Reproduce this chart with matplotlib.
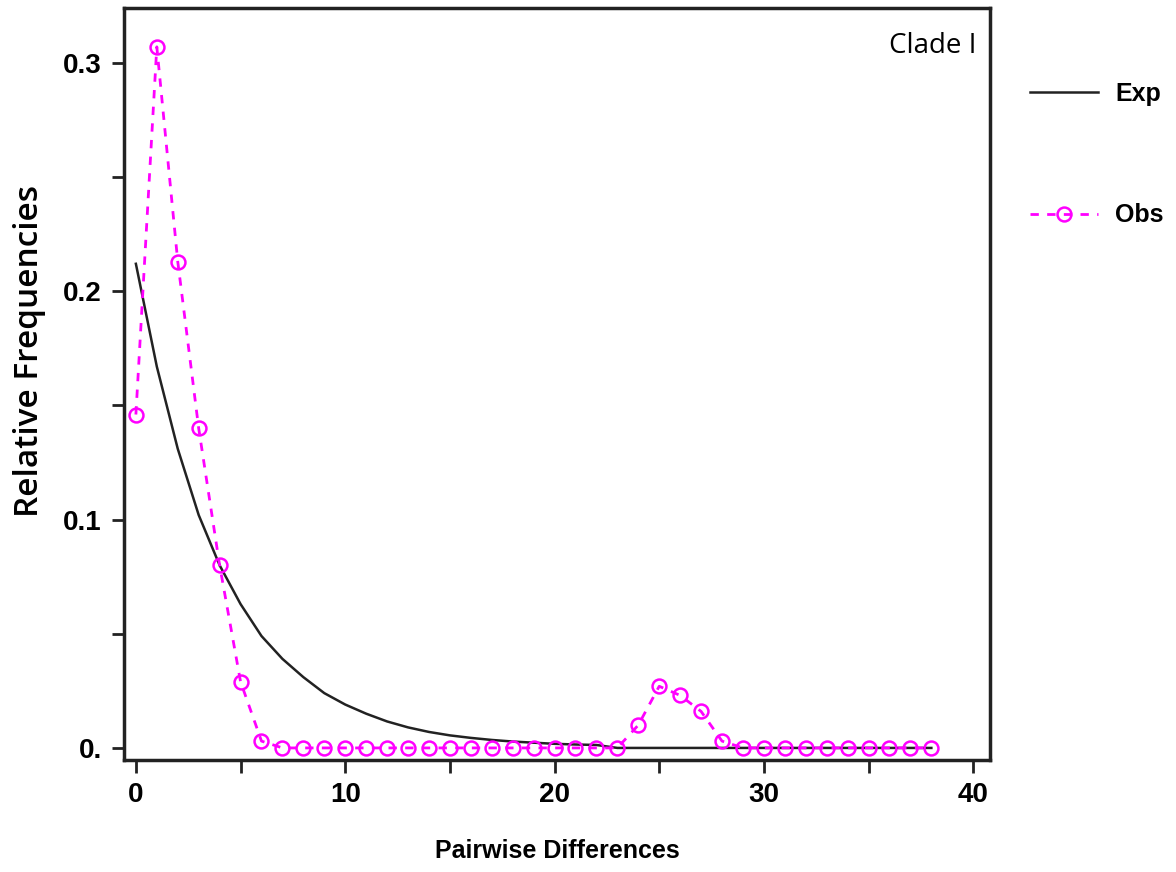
import matplotlib
matplotlib.use('Agg')
from matplotlib import pyplot as plt
from matplotlib.ticker import MultipleLocator, FixedLocator

pairwise_diff = list(range(0, 39))

obs_freq = [0.146, 0.307, 0.213, 0.140, 0.080, 0.029, 0.003, 0.0, 0.0, 0.0,
            0.0, 0.0, 0.0, 0.0, 0.0, 0.0, 0.0, 0.0, 0.0, 0.0,
            0.0, 0.0, 0.0, 0.0, 0.010, 0.027, 0.023, 0.016, 0.003, 0.0,
            0.0, 0.0, 0.0, 0.0, 0.0, 0.0, 0.0, 0.0, 0.0]

exp_freq = [0.212, 0.167, 0.131, 0.102, 0.080, 0.063, 0.049, 0.039, 0.031, 0.024,
            0.019, 0.015, 0.0116, 0.0090, 0.0070, 0.0055, 0.0044, 0.0035, 0.0028, 0.0023,
            0.0018, 0.0015, 0.0013, 0.0, 0.0, 0.0, 0.0, 0.0, 0.0, 0.0,
            0.0, 0.0, 0.0, 0.0, 0.0, 0.0, 0.0, 0.0, 0.0]

y_ticks = [0.0, 0.1, 0.2, 0.3]
y_tick_labels = ['0.', '0.1', '0.2', '0.3']
x_ticks = [0, 10, 20, 30, 40]

bold_font = ['Liberation Sans', 'DejaVu Sans']
label_font = ['Open Sans', 'DejaVu Sans']

fig = plt.figure(figsize=(11.76, 8.72), dpi=100)
ax = fig.add_axes([0.1054, 0.1284, 0.7364, 0.8624])

line_exp, = ax.plot(pairwise_diff, exp_freq, color='#222222', lw=1.8, label='Exp')
line_obs, = ax.plot(pairwise_diff, obs_freq, color='#ff00ff', lw=2, ls=(0, (3, 3)),
                    marker='o', ms=10, mfc='none', mec='#ff00ff', mew=1.8, label='Obs')

ax.set_xlim(-0.57, 40.8)
ax.set_ylim(-0.0053, 0.324)

ax.xaxis.set_major_locator(FixedLocator(x_ticks))
ax.xaxis.set_minor_locator(MultipleLocator(5))
ax.yaxis.set_major_locator(FixedLocator(y_ticks))
ax.yaxis.set_minor_locator(MultipleLocator(0.05))
ax.set_yticklabels(y_tick_labels)

for sp in ax.spines.values():
    sp.set_linewidth(2.5)
    sp.set_color('#222222')
ax.tick_params(which='both', direction='out', length=9, width=2, color='#222222')
ax.tick_params(which='major', pad=7)
for lbl in ax.get_xticklabels() + ax.get_yticklabels():
    lbl.set_family(bold_font)
    lbl.set_fontweight('bold')
    lbl.set_fontsize(20)

ax.set_xlabel('Pairwise Differences', family=bold_font, fontweight='bold', fontsize=18, labelpad=22)
ax.set_ylabel('Relative Frequencies', family=label_font, fontweight='semibold', fontsize=24)
ax.yaxis.set_label_coords(-0.09, 0.544)

ax.text(0.985, 0.968, 'Clade I', transform=ax.transAxes, ha='right', va='top',
        family=label_font, fontsize=20)

leg = fig.legend(handles=[line_exp, line_obs], loc='upper left', bbox_to_anchor=(0.857, 0.932),
                 frameon=False, labelspacing=3.9, handlelength=2.7, handletextpad=0.7,
                 prop={'family': bold_font, 'weight': 'bold', 'size': 18})

fig.savefig('out.png', dpi=100)
